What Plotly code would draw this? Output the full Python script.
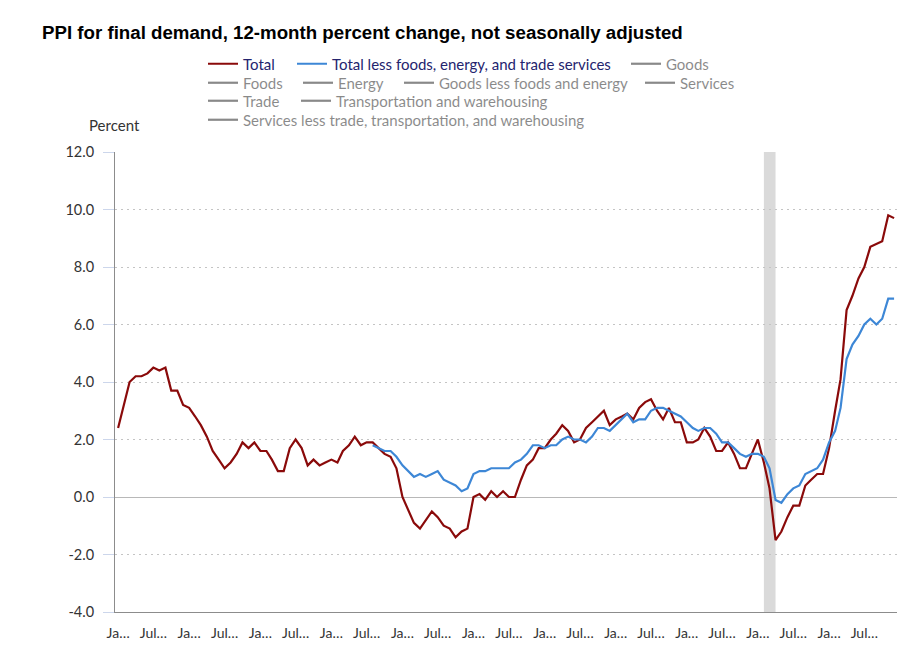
import pandas as pd
import plotly.graph_objects as go

# ---------------- data ----------------
months = pd.date_range("2011-01-01", periods=132, freq="MS")

total = [
    2.4, 3.3, 4.0, 4.2, 4.2, 4.3, 4.5, 4.4, 4.5, 3.7, 3.7, 3.2,      # 2011
    3.1, 2.8, 2.5, 2.1, 1.6, 1.3, 1.0, 1.2, 1.5, 1.9, 1.7, 1.9,      # 2012
    1.6, 1.6, 1.3, 0.9, 0.9, 1.7, 2.0, 1.7, 1.1, 1.3, 1.1, 1.2,      # 2013
    1.3, 1.2, 1.6, 1.8, 2.1, 1.8, 1.9, 1.9, 1.7, 1.5, 1.4, 1.0,      # 2014
    0.0, -0.5, -0.9, -1.1, -0.8, -0.5, -0.7, -1.0, -1.1, -1.4, -1.2, -1.1,  # 2015
    0.0, 0.1, -0.1, 0.2, 0.0, 0.2, 0.0, 0.0, 0.6, 1.1, 1.3, 1.7,     # 2016
    1.7, 2.0, 2.2, 2.5, 2.3, 1.9, 2.0, 2.4, 2.6, 2.8, 3.0, 2.5,      # 2017
    2.7, 2.8, 2.9, 2.7, 3.1, 3.3, 3.4, 3.0, 2.7, 3.1, 2.6, 2.6,      # 2018
    1.9, 1.9, 2.0, 2.4, 2.1, 1.6, 1.6, 1.9, 1.5, 1.0, 1.0, 1.5,      # 2019
    2.0, 1.2, 0.3, -1.5, -1.2, -0.7, -0.3, -0.3, 0.4, 0.6, 0.8, 0.8, # 2020
    1.7, 3.0, 4.1, 6.5, 7.0, 7.6, 8.0, 8.7, 8.8, 8.9, 9.8, 9.7,      # 2021
]

core_start = "2014-08-01"
core = [
    1.8, 1.7, 1.6, 1.6, 1.4,                                          # Aug-Dec 2014
    1.1, 0.9, 0.7, 0.8, 0.7, 0.8, 0.9, 0.6, 0.5, 0.4, 0.2, 0.3,      # 2015
    0.8, 0.9, 0.9, 1.0, 1.0, 1.0, 1.0, 1.2, 1.3, 1.5, 1.8, 1.8,      # 2016
    1.7, 1.8, 1.8, 2.0, 2.1, 2.0, 2.0, 1.9, 2.1, 2.4, 2.4, 2.3,      # 2017
    2.5, 2.7, 2.9, 2.6, 2.7, 2.7, 3.0, 3.1, 3.1, 3.0, 2.9, 2.8,      # 2018
    2.6, 2.4, 2.3, 2.4, 2.4, 2.2, 1.9, 1.9, 1.7, 1.5, 1.4, 1.5,      # 2019
    1.5, 1.4, 1.0, -0.1, -0.2, 0.1, 0.3, 0.4, 0.8, 0.9, 1.0, 1.3,    # 2020
    1.9, 2.3, 3.1, 4.8, 5.3, 5.6, 6.0, 6.2, 6.0, 6.2, 6.9, 6.9,      # 2021
]
core_months = pd.date_range(core_start, periods=len(core), freq="MS")

hidden_series = [
    "Goods", "Foods", "Energy", "Goods less foods and energy", "Services",
    "Trade", "Transportation and warehousing",
    "Services less trade, transportation, and warehousing",
]

recession = ("2020-02-01", "2020-04-01")

y_ticks = [-4, -2, 0, 2, 4, 6, 8, 10, 12]
y_tick_text = [f"{v:.1f}" for v in y_ticks]          # plain hyphen minus
x_tick_dates = pd.date_range("2011-01-01", "2021-07-01", freq="6MS")
x_tick_text = ["Ja…" if d.month == 1 else "Jul…" for d in x_tick_dates]

# ---------------- styling ----------------
OFF = 8                      # page body margin of the viewer
W, H = 913 - OFF, 655 - OFF
RED = "#8a0a0a"
BLUE = "#3d87d6"
NAVY = "#24246e"
HIDDEN = "#161616"   # legendonly renders at 50% opacity -> mid grey
FONT = "Lato"
LEG_SIZE = 15

# legend entry text positions in page px: name -> (text_x, row_center_y)
legend_pos = {
    "Total": (243, 64),
    "Total less foods, energy, and trade services": (332, 64),
    "Goods": (666, 64),
    "Foods": (243, 83),
    "Energy": (338, 83),
    "Goods less foods and energy": (439, 83),
    "Services": (680, 83),
    "Trade": (243, 101),
    "Transportation and warehousing": (336, 101),
    "Services less trade, transportation, and warehousing": (243, 120),
}

fig = go.Figure()
layout_legends = {}


def legend_cfg(name, color):
    tx, ty = legend_pos[name]
    return dict(
        x=(tx - OFF - 40) / W, xref="container", xanchor="left",
        y=1 - (ty - OFF) / H, yref="container", yanchor="middle",
        orientation="h", bgcolor="rgba(0,0,0,0)", borderwidth=0,
        font=dict(family=FONT, size=LEG_SIZE, color=color),
    )


names_all = ["Total", "Total less foods, energy, and trade services"] + hidden_series
for k, name in enumerate(names_all):
    lid = "legend" if k == 0 else f"legend{k + 1}"
    color = NAVY if k < 2 else HIDDEN
    layout_legends[lid] = legend_cfg(name, color)

fig.add_trace(go.Scatter(
    x=months, y=total, name="Total", mode="lines",
    line=dict(color=RED, width=2.2), legend="legend",
    hovertemplate="%{x|%b %Y}: %{y:.1f}<extra>Total</extra>",
))
fig.add_trace(go.Scatter(
    x=core_months, y=core, name="Total less foods, energy, and trade services",
    mode="lines", line=dict(color=BLUE, width=2.2), legend="legend2",
    hovertemplate="%{x|%b %Y}: %{y:.1f}<extra>Less foods, energy, trade</extra>",
))
for k, name in enumerate(hidden_series):
    fig.add_trace(go.Scatter(
        x=[None], y=[None], name=name, mode="lines", visible="legendonly",
        showlegend=True, line=dict(color=HIDDEN, width=2.2),
        legend=f"legend{k + 3}",
    ))

fig.add_vrect(x0=recession[0], x1=recession[1], fillcolor="#dadada",
              opacity=1, line_width=0, layer="below")

fig.update_layout(
    width=W, height=H,
    margin=dict(l=115 - OFF, r=16, t=152 - OFF, b=43),
    paper_bgcolor="white", plot_bgcolor="white",
    font=dict(family=FONT, size=14, color="#333333"),
    title=dict(
        text="PPI for final demand, 12-month percent change, not seasonally adjusted",
        x=(42 - OFF) / W, xref="container", xanchor="left",
        y=1 - (32 - OFF) / H, yref="container", yanchor="middle",
        font=dict(family="Liberation Sans", size=18.7, color="#000000", weight="bold"),
    ),
    showlegend=True,
    hovermode="x unified",
    **layout_legends,
)

fig.update_xaxes(
    type="date", range=["2010-12-16", "2021-12-16"],
    tickvals=list(x_tick_dates), ticktext=x_tick_text, tickangle=0,
    showgrid=False, zeroline=False, automargin=False,
    showline=True, linecolor="#8c8c8c", linewidth=1,
    ticks="", ticklabelstandoff=8,
    tickfont=dict(family=FONT, size=14, color="#333333"),
)
fig.update_yaxes(
    range=[-4, 12], tickvals=y_ticks, ticktext=y_tick_text, automargin=False,
    showgrid=True, gridcolor="#c4c4c4", gridwidth=1, griddash="2px,4px",
    zeroline=True, zerolinecolor="#b8b8b8", zerolinewidth=1,
    showline=True, linecolor="#8c8c8c", linewidth=1,
    ticks="outside", ticklen=11, tickcolor="#ccd6eb", tickwidth=1,
    ticklabelstandoff=6,
    tickfont=dict(family=FONT, size=14.5, color="#333333"),
)

fig.add_annotation(
    text="Percent", xref="paper", yref="paper",
    x=(87 - 115) / 782, xanchor="left",
    y=(612 - 125) / 460, yanchor="middle",
    showarrow=False, font=dict(family=FONT, size=15, color="#333333"),
)

fig.write_html("out.html")
